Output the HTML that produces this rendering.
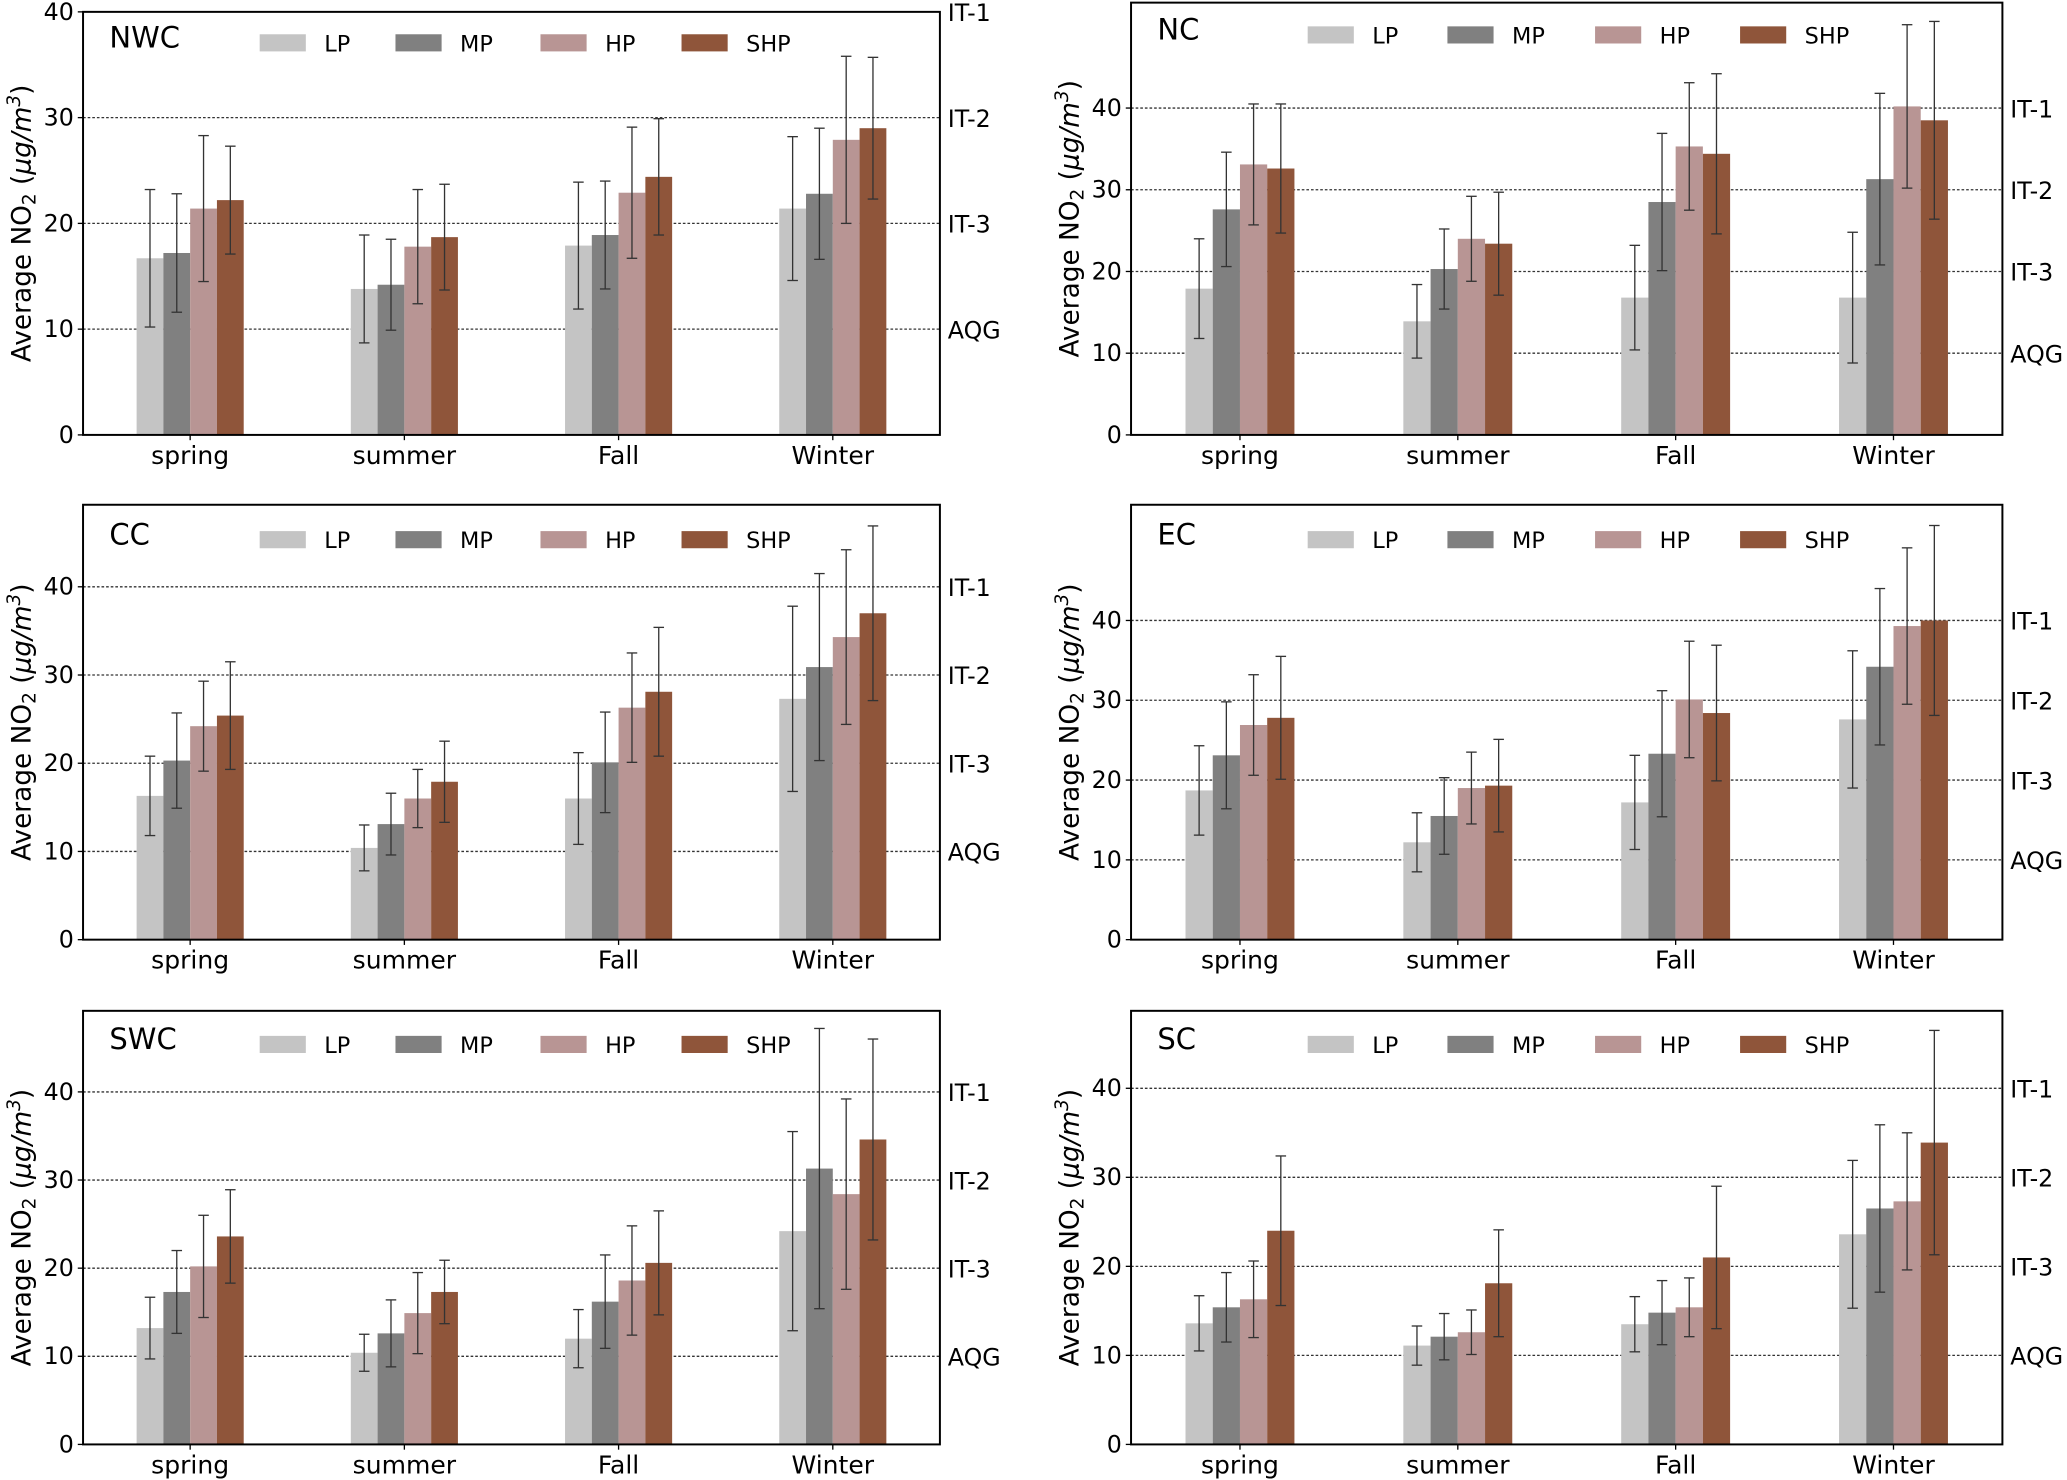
<!DOCTYPE html>
<html><head><meta charset="utf-8"><style>
html,body{margin:0;padding:0;background:#fff}
svg{display:block;font-family:"DejaVu Sans","Liberation Sans",sans-serif}
</style></head><body>
<svg id="fig" width="2067" height="1480" viewBox="0 0 1568 1123" preserveAspectRatio="none" xmlns="http://www.w3.org/2000/svg"></svg>
<script>
const categories = ["spring","summer","Fall","Winter"];
const seriesNames = ["LP","MP","HP","SHP"];
const yTicks = [0,10,20,30,40];
const guideValues = [10,20,30,40];
const guideLabels = ["AQG","IT-3","IT-2","IT-1"];
// mean values [series][category]
const NWC_mean = [[16.7,13.8,17.9,21.4],[17.2,14.2,18.9,22.8],[21.4,17.8,22.9,27.9],[22.2,18.7,24.4,29.0]];
const NWC_err  = [[6.5,5.1,6.0,6.8],[5.6,4.3,5.1,6.2],[6.9,5.4,6.2,7.9],[5.1,5.0,5.5,6.7]];
const NC_mean = [[17.9,13.9,16.8,16.8],[27.6,20.3,28.5,31.3],[33.1,24.0,35.3,40.2],[32.6,23.4,34.4,38.5]];
const NC_err  = [[6.1,4.5,6.4,8.0],[7.0,4.9,8.4,10.5],[7.4,5.2,7.8,10.0],[7.9,6.3,9.8,12.1]];
const CC_mean = [[16.3,10.4,16.0,27.3],[20.3,13.1,20.1,30.9],[24.2,16.0,26.3,34.3],[25.4,17.9,28.1,37.0]];
const CC_err  = [[4.5,2.6,5.2,10.5],[5.4,3.5,5.7,10.6],[5.1,3.3,6.2,9.9],[6.1,4.6,7.3,9.9]];
const EC_mean = [[18.7,12.2,17.2,27.6],[23.1,15.5,23.3,34.2],[26.9,19.0,30.1,39.3],[27.8,19.3,28.4,40.0]];
const EC_err  = [[5.6,3.7,5.9,8.6],[6.7,4.8,7.9,9.8],[6.3,4.5,7.3,9.8],[7.7,5.8,8.5,11.9]];
const SWC_mean = [[13.2,10.4,12.0,24.2],[17.3,12.6,16.2,31.3],[20.2,14.9,18.6,28.4],[23.6,17.3,20.6,34.6]];
const SWC_err  = [[3.5,2.1,3.3,11.3],[4.7,3.8,5.3,15.9],[5.8,4.6,6.2,10.8],[5.3,3.6,5.9,11.4]];
const SC_mean = [[13.6,11.1,13.5,23.6],[15.4,12.1,14.8,26.5],[16.3,12.6,15.4,27.3],[24.0,18.1,21.0,33.9]];
const SC_err  = [[3.1,2.2,3.1,8.3],[3.9,2.6,3.6,9.4],[4.3,2.5,3.3,7.7],[8.4,6.0,8.0,12.6]];

const colors = ["#c4c4c4","#808080","#b89594","#8f553a"];
const NS="http://www.w3.org/2000/svg";
const svg=document.getElementById('fig');
function mk(tag,attrs,parent,text){const e=document.createElementNS(NS,tag);for(const k in attrs)e.setAttribute(k,attrs[k]);if(text!==undefined)e.textContent=text;(parent||svg).appendChild(e);return e;}

const panels=[
 {name:"NWC",mean:NWC_mean,err:NWC_err,x0:63,x1:713,y0:9,y1:330,ymax:40,legY:33,lx:[197,300,410,517]},
 {name:"NC",mean:NC_mean,err:NC_err,x0:858,x1:1519,y0:2,y1:330,ymax:52.9,legY:27,lx:[992,1098,1210,1320]},
 {name:"CC",mean:CC_mean,err:CC_err,x0:63,x1:713,y0:383,y1:713,ymax:49.3,legY:410,lx:[197,300,410,517]},
 {name:"EC",mean:EC_mean,err:EC_err,x0:858,x1:1519,y0:383,y1:713,ymax:54.5,legY:410,lx:[992,1098,1210,1320]},
 {name:"SWC",mean:SWC_mean,err:SWC_err,x0:63,x1:713,y0:767,y1:1096,ymax:49.2,legY:793,lx:[197,300,410,517]},
 {name:"SC",mean:SC_mean,err:SC_err,x0:858,x1:1519,y0:767,y1:1096,ymax:48.7,legY:793,lx:[992,1098,1210,1320]}
];

panels.forEach(p=>{
  const g=mk('g',{});
  
  
  const W=p.x1-p.x0;
  const xs=v=>p.x0+(v+0.5)/4*W;
  const ys=v=>p.y1-v/p.ymax*(p.y1-p.y0);
  // guide lines
  guideValues.forEach((gv,i)=>{
    const y=ys(gv);
    if(gv<p.ymax-0.3){
      const l=mk('line',{x1:p.x0,x2:p.x1,y1:y,y2:y,stroke:'#333','stroke-width':1,'stroke-dasharray':'2,1.5'},g);
      
      
    }
    const t=mk('text',{x:p.x1+6,y:y+7,'font-size':18,fill:'#000'},g,guideLabels[i]);
    
    
  });
  // bars
  const bw=0.125;
  for(let s=0;s<4;s++){
    for(let c=0;c<4;c++){
      const m=p.mean[s][c], e=p.err[s][c];
      const cx=c+(s-1.5)*bw;
      const xl=xs(cx-bw/2), xr=xs(cx+bw/2);
      const r=mk('rect',{x:xl,y:ys(m),width:xr-xl,height:ys(0)-ys(m),fill:colors[s]},g);
      
      
    }
  }
  for(let s=0;s<4;s++){
    for(let c=0;c<4;c++){
      const m=p.mean[s][c], e=p.err[s][c];
      const x=xs(c+(s-1.5)*bw);
      const eg=mk('g',{stroke:'#333','stroke-width':1},g);
      
      
      mk('line',{x1:x,x2:x,y1:ys(m-e),y2:ys(m+e)},eg);
      mk('line',{x1:x-4,x2:x+4,y1:ys(m-e),y2:ys(m-e)},eg);
      mk('line',{x1:x-4,x2:x+4,y1:ys(m+e),y2:ys(m+e)},eg);
    }
  }
  // frame
  const f=mk('rect',{x:p.x0,y:p.y0,width:W,height:p.y1-p.y0,fill:'none',stroke:'#000','stroke-width':1.5},g);
  
  
  // y ticks
  yTicks.forEach(v=>{
    const y=ys(v);
    mk('line',{x1:p.x0-4,x2:p.x0,y1:y,y2:y,stroke:'#000','stroke-width':1},g);
    const t=mk('text',{x:p.x0-7,y:y+6,'font-size':18,'text-anchor':'end'},g,String(v));
    
    
  });
  // x labels
  categories.forEach((c,i)=>{
    const x=xs(i);
    mk('line',{x1:x,x2:x,y1:p.y1,y2:p.y1+4,stroke:'#000','stroke-width':1},g);
    const t=mk('text',{x:x,y:p.y1+22,'font-size':19,'text-anchor':'middle'},g,c);
    
    
  });
  // y title
  const yt=mk('text',{transform:`translate(${p.x0-40},${(p.y0+p.y1)/2}) rotate(-90)`,'font-size':20,'text-anchor':'middle'},g);
  
  
  yt.innerHTML='Average NO<tspan font-size="14" dy="4">2</tspan><tspan dy="-4"> (</tspan><tspan font-style="italic">μg/m</tspan><tspan font-size="14" dy="-8" font-style="italic">3</tspan><tspan dy="8">)</tspan>';
  // title
  const tt=mk('text',{x:p.x0+20,y:p.legY+3,'font-size':22},g,p.name);
  
  
  // legend
  seriesNames.forEach((n,i)=>{
    const lg=mk('g',{},g);
    
    
    mk('rect',{x:p.lx[i],y:p.legY-7,width:35,height:13,fill:colors[i]},lg);
    mk('text',{x:p.lx[i]+49,y:p.legY+6,'font-size':17},lg,n);
  });
});
</script>
</body></html>
